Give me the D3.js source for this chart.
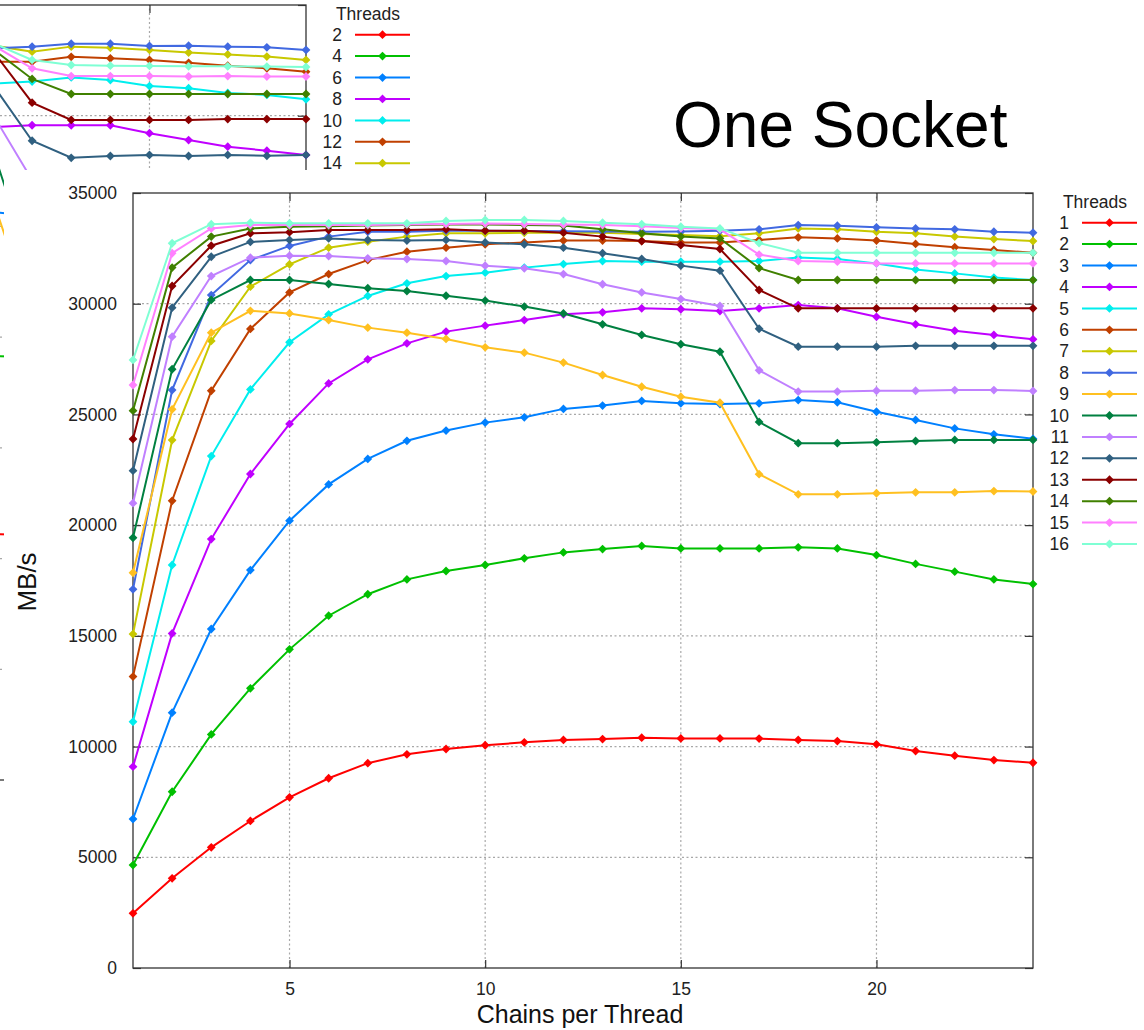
<!doctype html>
<html>
<head>
<meta charset="utf-8">
<script src="https://cdnjs.cloudflare.com/ajax/libs/d3/7.8.5/d3.min.js"></script>
<style>
  body { margin: 0; background: #fff; }
  svg { display: block; font-family: "Liberation Sans", Arial, sans-serif; }
</style>
</head>
<body>
<svg id="chart" width="1144" height="1030"></svg>
<script>
// ---- one socket run (front window) ----
var chains = [1, 2, 3, 4, 5, 6, 7, 8, 9, 10, 11, 12, 13, 14, 15, 16, 17, 18, 19, 20, 21, 22, 23, 24];
var threads = ["1", "2", "3", "4", "5", "6", "7", "8", "9", "10", "11", "12", "13", "14", "15", "16"];
var colors = ["#ff0000", "#00c000", "#0080ff", "#c000ff", "#00eeee", "#c04000", "#c8c800", "#4169e1",
              "#ffc020", "#008040", "#c080ff", "#306080", "#8b0000", "#408000", "#ff80ff", "#7fffd4"];

var t1  = [2470, 4050, 5450, 6640, 7710, 8570, 9250, 9650, 9890, 10060, 10190, 10300, 10340, 10400, 10370, 10370, 10360, 10300, 10250, 10100, 9800, 9590, 9390, 9270];
var t2  = [4650, 7960, 10550, 12630, 14390, 15910, 16880, 17550, 17930, 18200, 18500, 18770, 18920, 19060, 18950, 18950, 18950, 19000, 18950, 18650, 18250, 17900, 17550, 17340];
var t3  = [6730, 11530, 15310, 17970, 20200, 21840, 22990, 23810, 24270, 24630, 24870, 25250, 25400, 25610, 25500, 25470, 25500, 25650, 25550, 25120, 24750, 24370, 24100, 23900];
var t4  = [9090, 15110, 19370, 22310, 24570, 26400, 27490, 28210, 28740, 29010, 29260, 29520, 29610, 29790, 29750, 29670, 29790, 29940, 29790, 29410, 29070, 28780, 28590, 28390];
var t5  = [11120, 18200, 23120, 26130, 28260, 29520, 30350, 30920, 31250, 31400, 31630, 31790, 31930, 31900, 31900, 31900, 31930, 32090, 32020, 31820, 31550, 31370, 31180, 31070];
var t6  = [13160, 21100, 26070, 28860, 30510, 31340, 31970, 32350, 32530, 32680, 32770, 32850, 32850, 32830, 32760, 32760, 32880, 33000, 32950, 32850, 32700, 32550, 32430, 32300];
var t7  = [15080, 23840, 28320, 30770, 31780, 32530, 32800, 33030, 33180, 33180, 33200, 33200, 33200, 33150, 33100, 33050, 33180, 33400, 33360, 33250, 33180, 33030, 32920, 32830];
var t8  = [17100, 26100, 30390, 31970, 32610, 33030, 33250, 33250, 33300, 33300, 33280, 33270, 33260, 33250, 33260, 33300, 33360, 33550, 33520, 33450, 33400, 33360, 33250, 33210];
var t9  = [17850, 25230, 28690, 29680, 29560, 29260, 28920, 28690, 28410, 28030, 27790, 27340, 26780, 26250, 25800, 25530, 22300, 21390, 21390, 21440, 21480, 21480, 21540, 21520];
var t10 = [19430, 27040, 30170, 31070, 31070, 30890, 30700, 30570, 30360, 30140, 29870, 29560, 29070, 28590, 28170, 27830, 24660, 23700, 23700, 23740, 23800, 23850, 23850, 23850];
var t11 = [20990, 28510, 31250, 32080, 32170, 32150, 32050, 32020, 31930, 31720, 31600, 31340, 30880, 30510, 30210, 29900, 26990, 26030, 26030, 26070, 26070, 26100, 26100, 26060];
var t12 = [22460, 29820, 32120, 32790, 32880, 32950, 32880, 32850, 32880, 32770, 32680, 32530, 32280, 32020, 31720, 31490, 28870, 28060, 28060, 28060, 28100, 28100, 28100, 28100];
var t13 = [23890, 30800, 32620, 33180, 33230, 33330, 33330, 33330, 33360, 33300, 33300, 33210, 33030, 32830, 32650, 32470, 30620, 29790, 29790, 29790, 29790, 29790, 29790, 29790];
var t14 = [25170, 31630, 33030, 33400, 33480, 33500, 33530, 33550, 33580, 33580, 33560, 33530, 33360, 33180, 33030, 32950, 31610, 31070, 31070, 31070, 31070, 31070, 31070, 31070];
var t15 = [26330, 32280, 33400, 33550, 33550, 33550, 33560, 33580, 33600, 33620, 33600, 33580, 33550, 33500, 33420, 33360, 32220, 31930, 31900, 31820, 31820, 31820, 31820, 31820];
var t16 = [27460, 32730, 33590, 33660, 33630, 33630, 33630, 33630, 33740, 33780, 33780, 33740, 33660, 33590, 33480, 33400, 32740, 32300, 32300, 32300, 32300, 32300, 32300, 32300];
var series = [t1, t2, t3, t4, t5, t6, t7, t8, t9, t10, t11, t12, t13, t14, t15, t16];

// ---- the other run, window behind (only its right end shows) ----
var bgChains = [16, 17, 18, 19, 20, 21, 22, 23, 24];
var bgThreads = ["2", "4", "6", "8", "10", "12", "14", "16", "18", "20", "22", "24", "26", "28", "30", "32"];
var b2  = [11110, 11070, 11000, 10950, 10900, 10800, 10700, 10600, 10500];
var b4  = [19150, 19100, 19050, 19000, 18900, 18700, 18500, 18300, 18100];
var b6  = [25650, 25470, 25400, 25300, 25200, 25000, 24800, 24600, 24400];
var b8  = [29490, 29570, 29570, 29570, 29210, 28900, 28600, 28420, 28230];
var b10 = [31450, 31540, 31730, 31610, 31340, 31240, 31030, 30940, 30740];
var b12 = [32440, 32440, 32660, 32590, 32520, 32390, 32260, 32140, 31990];
var b14 = [33170, 32890, 33120, 33070, 32970, 32850, 32770, 32670, 32520];
var b16 = [33040, 33120, 33250, 33250, 33150, 33160, 33120, 33090, 32970];
var b18 = [26190, 20910, 20500, 20400, 20400, 20300, 20300, 20200, 20200];
var b20 = [28450, 23030, 22500, 22400, 22400, 22400, 22400, 22400, 22400];
var b22 = [30050, 27100, 26400, 26300, 26300, 26300, 26300, 26300, 26300];
var b24 = [31390, 28870, 28100, 28180, 28230, 28180, 28230, 28190, 28230];
var b26 = [32920, 30590, 29810, 29810, 29810, 29810, 29850, 29850, 29850];
var b28 = [33010, 31660, 30980, 30980, 30980, 30980, 30980, 30980, 30980];
var b30 = [33190, 32140, 31790, 31790, 31790, 31770, 31790, 31770, 31770];
var b32 = [33280, 32520, 32290, 32260, 32250, 32230, 32230, 32220, 32200];
var bgSeries = [b2, b4, b6, b8, b10, b12, b14, b16, b18, b20, b22, b24, b26, b28, b30, b32];

var yTicks = [0, 5000, 10000, 15000, 20000, 25000, 30000, 35000];
var xTicks = [5, 10, 15, 20];

var FONT = '"Liberation Sans", Arial, sans-serif';

function diamond(r) {
  return "M0," + (-r) + "L" + r + ",0L0," + r + "L" + (-r) + ",0Z";
}

// keyRows: how many key rows to draw (the window behind only shows its first few)
function drawPlot(g, xs, data, labels, withTickLabels, keyRows) {
  var x = d3.scaleLinear().domain([1, 24]).range([133, 1033]);
  var y = d3.scaleLinear().domain([0, 35000]).range([968, 193]);

  // dotted grid
  g.selectAll(".gridx").data(xTicks).enter().append("line")
      .attr("class", "gridx")
      .attr("x1", d => x(d)).attr("x2", d => x(d))
      .attr("y1", y(0)).attr("y2", y(35000))
      .style("stroke", "#a8a8a8").style("stroke-width", 1.2).style("stroke-dasharray", "2,2.5");
  g.selectAll(".gridy").data(yTicks.slice(1, -1)).enter().append("line")
      .attr("class", "gridy")
      .attr("x1", x(1)).attr("x2", x(24))
      .attr("y1", d => y(d)).attr("y2", d => y(d))
      .style("stroke", "#a8a8a8").style("stroke-width", 1.2).style("stroke-dasharray", "2,2.5");

  // axes, ticks pointing inwards, mirrored on top and right
  var fmt = withTickLabels ? d3.format("d") : "";
  var axes = [
    g.append("g").attr("transform", "translate(" + x(1) + ",0)")
      .call(d3.axisLeft(y).tickValues(yTicks).tickSize(-8).tickPadding(16).tickFormat(fmt)),
    g.append("g").attr("transform", "translate(" + x(24) + ",0)")
      .call(d3.axisRight(y).tickValues(yTicks).tickSize(-8).tickFormat("")),
    g.append("g").attr("transform", "translate(0," + y(0) + ")")
      .call(d3.axisBottom(x).tickValues(xTicks).tickSize(-8).tickPadding(14.6).tickFormat(fmt)),
    g.append("g").attr("transform", "translate(0," + y(35000) + ")")
      .call(d3.axisTop(x).tickValues(xTicks).tickSize(-8).tickFormat(""))
  ];
  axes.forEach(function(a) {
    a.select(".domain").remove();
    a.selectAll("line").style("stroke", "#333").style("stroke-width", 1.2);
    a.selectAll("text").filter(function() { return this.textContent === ""; }).remove();
    a.selectAll("text").style("font-family", FONT).style("font-size", "17.5px").style("fill", "#222");
  });

  g.append("rect")
      .attr("x", x(1)).attr("y", y(35000))
      .attr("width", x(24) - x(1)).attr("height", y(0) - y(35000))
      .style("fill", "none").style("stroke", "#333").style("stroke-width", 1.3);

  // series, drawn in order so the last thread count sits on top
  var line = d3.line().x((d, i) => x(xs[i])).y(d => y(d));
  data.forEach(function(vals, i) {
    g.append("path").datum(vals)
        .attr("d", line)
        .style("fill", "none").style("stroke", colors[i]).style("stroke-width", 2);
    g.selectAll(null).data(vals).enter().append("path")
        .attr("d", diamond(4.4))
        .attr("transform", (v, j) => "translate(" + x(xs[j]) + "," + y(v) + ")")
        .style("fill", colors[i]);
  });

  // key
  g.append("text")
      .attr("x", 1095).attr("y", 201.7).attr("dy", "0.35em")
      .attr("text-anchor", "middle")
      .style("font-size", "17.5px").style("fill", "#222")
      .text("Threads");
  labels.slice(0, keyRows).forEach(function(lab, i) {
    var ly = 222.7 + i * 21.42;
    g.append("text")
        .attr("x", 1069).attr("y", ly).attr("dy", "0.35em")
        .attr("text-anchor", "end")
        .style("font-size", "17.5px").style("fill", "#222")
        .text(lab);
    g.append("line")
        .attr("x1", 1082).attr("x2", 1137).attr("y1", ly).attr("y2", ly)
        .style("stroke", colors[i]).style("stroke-width", 2);
    g.append("path")
        .attr("d", diamond(4.4))
        .attr("transform", "translate(1109.5," + ly + ")")
        .style("fill", colors[i]);
  });
}

var svg = d3.select("#chart");

// window behind
var back = svg.append("g").attr("transform", "translate(-727,-188)");
drawPlot(back, bgChains, bgSeries, bgThreads, false, 7);

// front window
svg.append("rect").attr("x", 4).attr("y", 170).attr("width", 1140).attr("height", 860).style("fill", "#fff");
var front = svg.append("g");
drawPlot(front, chains, series, threads, true, 16);

svg.append("text")
    .attr("x", 673).attr("y", 147)
    .style("font-size", "64px").style("fill", "#000")
    .text("One Socket");

svg.append("text")
    .attr("transform", "translate(27,582) rotate(-90)")
    .attr("dy", "0.36em")
    .attr("text-anchor", "middle")
    .style("font-size", "26px").style("fill", "#111")
    .text("MB/s");

svg.append("text")
    .attr("x", 580).attr("y", 1023)
    .attr("text-anchor", "middle")
    .style("font-size", "25px").style("fill", "#111")
    .text("Chains per Thread");
</script>
</body>
</html>
